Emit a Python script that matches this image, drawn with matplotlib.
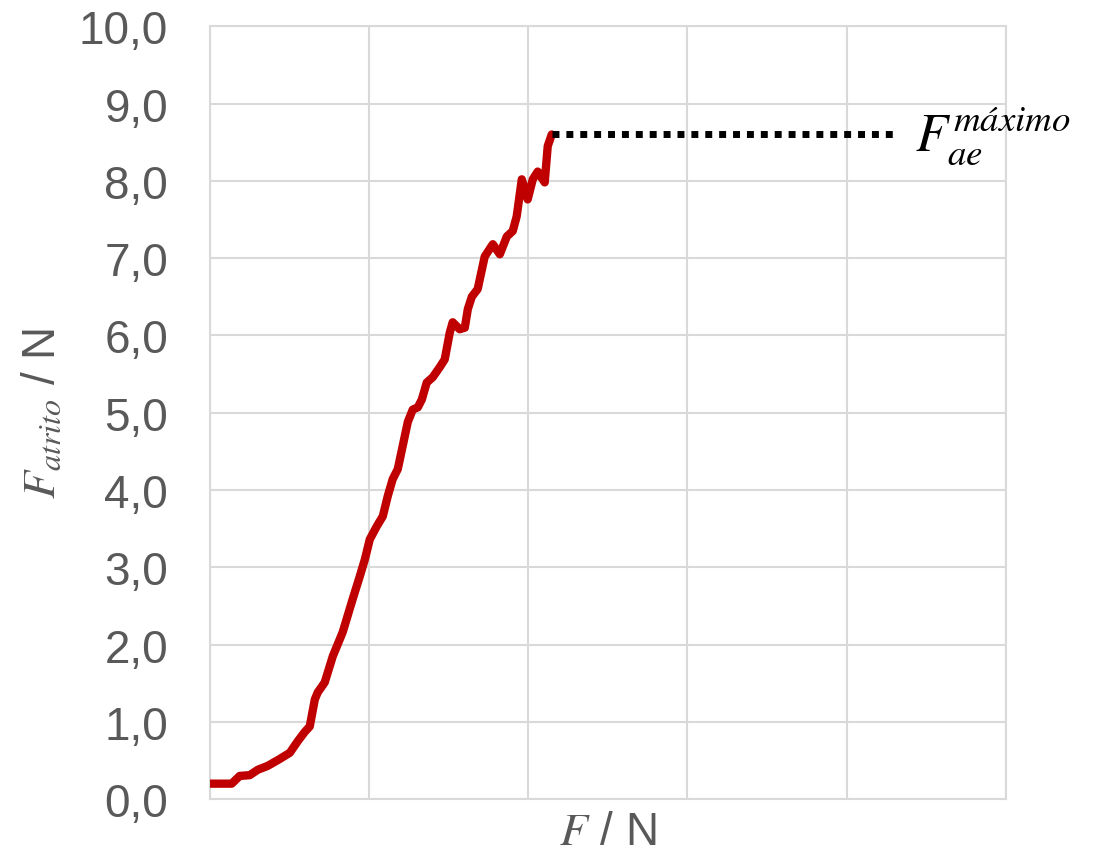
import matplotlib
matplotlib.use("Agg")
import matplotlib.pyplot as plt
import numpy as np

matplotlib.rcParams['font.family'] = ['Liberation Sans', 'DejaVu Sans']
matplotlib.rcParams['mathtext.fontset'] = 'stix'

# applied force F (arbitrary units, 5 grid divisions) and friction force in N
force = [0.000, 0.094, 0.138, 0.188, 0.251, 0.302, 0.364, 0.440, 0.503, 0.553,
         0.597, 0.628, 0.660, 0.678, 0.722, 0.773, 0.835, 0.898, 0.942, 0.974,
         1.005, 1.049, 1.087, 1.118, 1.149, 1.181, 1.212, 1.244, 1.275, 1.307,
         1.332, 1.363, 1.401, 1.445, 1.476, 1.508, 1.526, 1.570, 1.602, 1.621,
         1.646, 1.683, 1.727, 1.778, 1.822, 1.866, 1.903, 1.928, 1.960, 1.997,
         2.029, 2.060, 2.104, 2.123, 2.148]
f_atrito = [0.20, 0.20, 0.20, 0.30, 0.31, 0.38, 0.43, 0.52, 0.60, 0.75,
            0.87, 0.94, 1.29, 1.38, 1.51, 1.85, 2.16, 2.59, 2.88, 3.10,
            3.36, 3.53, 3.66, 3.92, 4.14, 4.27, 4.57, 4.88, 5.04, 5.07,
            5.17, 5.39, 5.46, 5.59, 5.69, 6.04, 6.17, 6.08, 6.10, 6.34,
            6.50, 6.60, 7.02, 7.18, 7.05, 7.28, 7.35, 7.54, 8.02, 7.76,
            8.02, 8.12, 7.98, 8.45, 8.60]

f_max = 8.6
f_max_span = [2.148, 4.29]

fig = plt.figure(figsize=(11.04, 8.53), dpi=100)
ax = fig.add_axes([0.190, 0.062, 0.721, 0.906])

ax.plot(force, f_atrito, color="#C00000", lw=6, solid_capstyle="round",
        solid_joinstyle="round", zorder=3)
ax.plot(f_max_span, [f_max, f_max], color="black", lw=5,
        linestyle=(0, (1, 1)), dash_capstyle="butt", zorder=3)
ax.text(f_max_span[1] + 0.14, f_max, r"$F_{ae}^{máximo}$", fontsize=38,
        va="center", ha="left", color="black")

ax.set_xlim(0, 5)
ax.set_ylim(0, 10)
ax.set_xticks(np.arange(0, 6, 1))
ax.set_yticks(np.arange(0, 11, 1))
ax.set_xticklabels([])
ax.set_yticklabels([("%.1f" % v).replace(".", ",") for v in np.arange(0, 11, 1)])
ax.grid(True, color="#d9d9d9", lw=1.5)
ax.set_axisbelow(True)
for s in ax.spines.values():
    s.set_color("#d9d9d9")
    s.set_linewidth(1.5)
ax.tick_params(axis="both", length=0, labelsize=33, labelcolor="#595959")
ax.tick_params(axis="y", pad=30)
ax.tick_params(axis="x", pad=0)

ax.set_ylabel(r"$F_{atrito}$ / N", fontsize=33, color="#595959", labelpad=10)
ax.set_xlabel(r"$F$ / N", fontsize=33, color="#595959", labelpad=8)

plt.savefig("out.png", dpi=100)
